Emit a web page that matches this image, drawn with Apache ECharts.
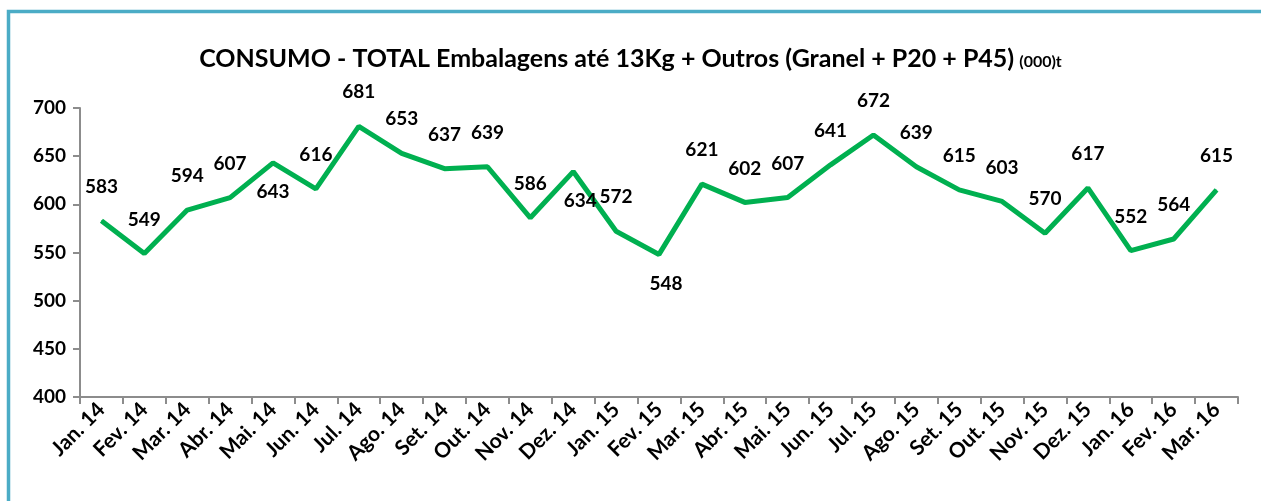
<!DOCTYPE html>
<html>
<head>
<meta charset="utf-8">
<script src="https://cdn.jsdelivr.net/npm/echarts@6/dist/echarts.min.js"></script>
<style>
    html, body { margin: 0; padding: 0; background: #fff; }
    #grafico { width: 1261px; height: 501px; }
</style>
</head>
<body>
<div id="grafico"></div>
<script>
    var meses = ['Jan. 14', 'Fev. 14', 'Mar. 14', 'Abr. 14', 'Mai. 14', 'Jun. 14', 'Jul. 14', 'Ago. 14', 'Set. 14',
        'Out. 14', 'Nov. 14', 'Dez. 14', 'Jan. 15', 'Fev. 15', 'Mar. 15', 'Abr. 15', 'Mai. 15', 'Jun. 15',
        'Jul. 15', 'Ago. 15', 'Set. 15', 'Out. 15', 'Nov. 15', 'Dez. 15', 'Jan. 16', 'Fev. 16', 'Mar. 16'];
    var consumo = [583, 549, 594, 607, 643, 616, 681, 653, 637, 639, 586, 634, 572, 548, 621, 602, 607, 641,
        672, 639, 615, 603, 570, 617, 552, 564, 615];
    // rotulos que ficam abaixo da linha
    var rotuloAbaixo = ['Mai. 14', 'Dez. 14', 'Fev. 15'];

    var fonte = 'Lato, "Open Sans", sans-serif';
    var peso = 'bold';

    var dom = document.getElementById('grafico');
    var chart = echarts.init(dom, null, { renderer: 'canvas' });

    chart.setOption({
        animation: false,
        title: {
            left: 'center',
            top: 38,
            text: '{a|CONSUMO - TOTAL Embalagens até 13Kg + Outros (Granel + P20 + P45)} {b|(000)t}',
            textStyle: {
                rich: {
                    a: { fontFamily: fonte, fontWeight: peso, fontSize: 25, color: '#000', lineHeight: 32 },
                    b: { fontFamily: fonte, fontWeight: peso, fontSize: 16, color: '#000', lineHeight: 32, padding: [6, 0, 0, 0] }
                }
            }
        },
        graphic: [{
            type: 'rect',
            shape: { x: 8.5, y: 11.5, width: 1400, height: 700 },
            style: { fill: 'none', stroke: '#4BACC6', lineWidth: 3.5 },
            silent: true
        }],
        grid: {
            left: 80,
            right: 23,
            top: 108,
            bottom: 104
        },
        xAxis: {
            type: 'category',
            data: meses,
            boundaryGap: true,
            axisLine: { lineStyle: { color: '#8c8c8c', width: 2 } },
            axisTick: { show: true, length: 7, lineStyle: { color: '#8c8c8c', width: 2 } },
            axisLabel: {
                interval: 0,
                rotate: 45,
                margin: 9,
                color: '#000',
                fontFamily: fonte,
                fontWeight: peso,
                fontSize: 21
            }
        },
        yAxis: {
            type: 'value',
            min: 400,
            max: 700,
            interval: 50,
            splitLine: { show: false },
            axisLine: { show: true, lineStyle: { color: '#8c8c8c', width: 2 } },
            axisTick: { show: true, length: 7, lineStyle: { color: '#8c8c8c', width: 2 } },
            axisLabel: {
                margin: 14,
                color: '#000',
                fontFamily: fonte,
                fontWeight: peso,
                fontSize: 19
            }
        },
        series: [{
            name: 'Consumo',
            type: 'line',
            color: '#00B050',
            symbol: 'circle',
            symbolSize: 1,
            lineStyle: { width: 5, color: '#00B050' },
            itemStyle: { color: '#00B050' },
            data: consumo.map(function (v, i) {
                var abaixo = rotuloAbaixo.indexOf(meses[i]) >= 0;
                return {
                    value: v,
                    label: abaixo
                        ? { position: 'bottom', distance: 19, offset: [meses[i] === 'Mai. 14' ? 0 : 7, 0] }
                        : { position: 'top', distance: 24 }
                };
            }),
            label: {
                show: true,
                color: '#000',
                fontFamily: fonte,
                fontWeight: peso,
                fontSize: 19
            }
        }]
    });

    window.addEventListener('resize', chart.resize);
</script>
</body>
</html>
